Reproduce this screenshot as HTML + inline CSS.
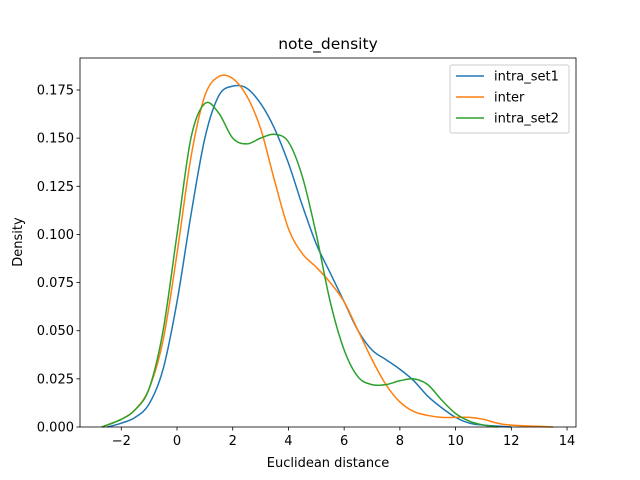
<!DOCTYPE html>
<html><head><meta charset="utf-8"><style>
body{margin:0;background:#fff}
svg{display:block;font-family:"DejaVu Sans","Liberation Sans",sans-serif}
</style></head><body>
<svg id="c" width="640" height="480" viewBox="0 0 640 480"></svg>
<script>
const xTicks=[-2,0,2,4,6,8,10,12,14];
const yTicks=[0,0.025,0.05,0.075,0.1,0.125,0.15,0.175];
const yTickLabels=["0.000","0.025","0.050","0.075","0.100","0.125","0.150","0.175"];
const seriesNames=["intra_set1","inter","intra_set2"];
const seriesColors=["#1f77b4","#ff7f0e","#2ca02c"];
const xs1=[-2.5,-2,-1.5,-1,-0.5,0,0.5,1,1.5,2,2.5,3,3.5,4,4.5,5,5.5,6,6.5,7,7.5,8,8.5,9,9.5,10,10.5,11,12];
const ys1=[0,0.002,0.005,0.012,0.03,0.065,0.11,0.15,0.172,0.177,0.176,0.168,0.155,0.137,0.115,0.095,0.08,0.065,0.05,0.04,0.035,0.03,0.024,0.016,0.01,0.005,0.002,0.001,0];
const xs2=[-2.7,-2,-1.5,-1,-0.5,0,0.5,1,1.5,2,2.5,3,3.5,4,4.5,5,5.5,6,6.5,7,7.5,8,8.5,9,9.5,10,10.5,11,11.5,12,13.5];
const ys2=[0,0.004,0.009,0.02,0.045,0.09,0.14,0.172,0.182,0.181,0.172,0.155,0.128,0.103,0.09,0.083,0.075,0.065,0.05,0.035,0.022,0.013,0.008,0.006,0.005,0.005,0.005,0.004,0.002,0.001,0];
const xs3=[-2.7,-2,-1.5,-1,-0.5,0,0.5,1,1.5,2,2.5,3,3.5,4,4.5,5,5.5,6,6.5,7,7.5,8,8.5,9,9.5,10,10.5,11,11.5];
const ys3=[0,0.004,0.009,0.02,0.05,0.1,0.15,0.168,0.163,0.15,0.147,0.15,0.152,0.148,0.13,0.1,0.065,0.04,0.026,0.022,0.022,0.024,0.025,0.022,0.014,0.007,0.003,0.001,0];
const L=80,R=576,T=58,B=427;
const X=v=>177+v*27.86, Y=v=>427-v*1925.7;
const svg=document.getElementById('c');
const NS="http://www.w3.org/2000/svg";
function el(t,a,p){const e=document.createElementNS(NS,t);for(const k in a)e.setAttribute(k,a[k]);(p||svg).appendChild(e);return e;}
function path(xs,ys){const p=xs.map((x,i)=>[X(x),Y(ys[i])]);let d="M"+p[0][0]+","+p[0][1];
for(let i=0;i<p.length-1;i++){const p0=p[i-1]||p[i],p1=p[i],p2=p[i+1],p3=p[i+2]||p2;
d+=` C${p1[0]+(p2[0]-p0[0])/6},${p1[1]+(p2[1]-p0[1])/6} ${p2[0]-(p3[0]-p1[0])/6},${p2[1]-(p3[1]-p1[1])/6} ${p2[0]},${p2[1]}`;}return d;}
const data=[[xs1,ys1],[xs2,ys2],[xs3,ys3]];
data.forEach((s,i)=>{const e=el('path',{d:path(s[0],s[1]),fill:'none',stroke:seriesColors[i],'stroke-width':1.5});

});
const f=el('rect',{x:L,y:T,width:R-L,height:B-T,fill:'none',stroke:'#000','stroke-width':0.8});


xTicks.forEach(v=>{el('line',{x1:X(v),x2:X(v),y1:B,y2:B+3.5,stroke:'#000','stroke-width':0.8});
const t=el('text',{x:X(v),y:B+18,'font-size':13,'text-anchor':'middle'});t.textContent=(v<0?'\u2212'+(-v):v);

});
yTicks.forEach((v,i)=>{el('line',{x1:L-3.5,x2:L,y1:Y(v),y2:Y(v),stroke:'#000','stroke-width':0.8});
const t=el('text',{x:L-6,y:Y(v)+4.5,'font-size':13,'text-anchor':'end'});t.textContent=yTickLabels[i];

});
let t=el('text',{x:328,y:49,'font-size':15.5,'text-anchor':'middle'});t.textContent='note_density';


t=el('text',{x:328,y:467,'font-size':13,'text-anchor':'middle'});t.textContent='Euclidean distance';


t=el('text',{x:22,y:242,'font-size':13,'text-anchor':'middle',transform:'rotate(-90 22 242)'});t.textContent='Density';


const g=el('g',{});


el('rect',{x:450,y:65,width:119,height:68,rx:2,fill:'#fff','fill-opacity':0.8,stroke:'#ccc'},g);
seriesNames.forEach((n,i)=>{const y=76+i*21;
el('line',{x1:456,x2:484,y1:y,y2:y,stroke:seriesColors[i],'stroke-width':1.5},g);
const tt=el('text',{x:494,y:y+4.5,'font-size':13},g);tt.textContent=n;

});
</script>
</body></html>
